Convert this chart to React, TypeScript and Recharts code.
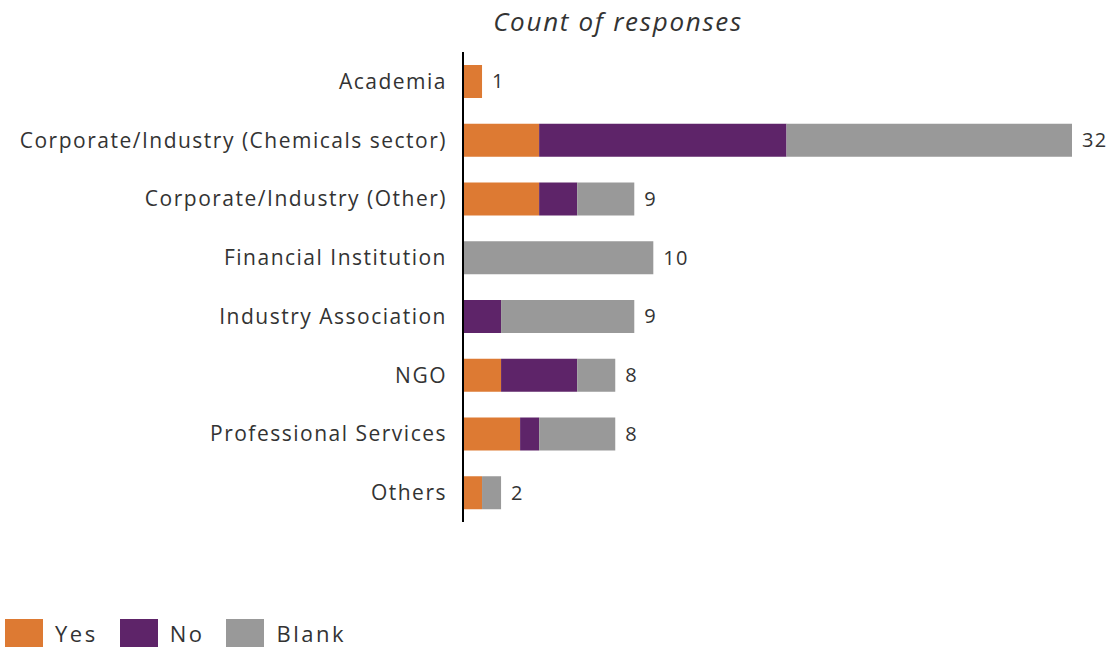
import { Bar, BarChart, LabelList, XAxis, YAxis } from "recharts";

const categories = [
  "Academia",
  "Corporate/Industry (Chemicals sector)",
  "Corporate/Industry (Other)",
  "Financial Institution",
  "Industry Association",
  "NGO",
  "Professional Services",
  "Others",
];
const yes = [1, 4, 4, 0, 0, 2, 3, 1];
const no = [0, 13, 2, 0, 2, 4, 1, 0];
const blank = [0, 15, 3, 10, 7, 2, 4, 1];

const seriesInfo = [
  { key: "yes", name: "Yes", color: "#DD7A33" },
  { key: "no", name: "No", color: "#5E2469" },
  { key: "blank", name: "Blank", color: "#999999" },
];

const data = categories.map((name, i) => ({
  name,
  yes: yes[i],
  no: no[i],
  blank: blank[i],
}));

const FONT = "Open Sans, sans-serif";

// total goes at the end of the last non-zero segment of each row
function makeTotalLabel(seriesIdx: number) {
  return function TotalLabel(props: any) {
    const { x, y, width, height, value } = props;
    const row: any = data.find((d) => d.name === value);
    if (!row) return null;
    const vals = seriesInfo.map((s) => row[s.key] as number);
    let last = -1;
    vals.forEach((v, i) => {
      if (v > 0) last = i;
    });
    if (last !== seriesIdx) return null;
    const total = vals.reduce((a, b) => a + b, 0);
    return (
      <text
        x={Number(x) + Number(width) + 10}
        y={Number(y) + Number(height) / 2}
        dy="0.35em"
        fontSize={20}
        letterSpacing={1.2}
        fontFamily={FONT}
        fill="#333"
      >
        {total}
      </text>
    );
  };
}

export default function App() {
  return (
    <div style={{ position: "absolute", left: 0, top: 0, width: 1109, height: 650, background: "#fff" }}>
      <div
        style={{
          position: "absolute",
          left: 418,
          width: 400,
          top: 3,
          textAlign: "center",
          fontFamily: FONT,
          fontStyle: "italic",
          fontSize: 26,
          letterSpacing: 1.7,
          color: "#333",
        }}
      >
        Count of responses
      </div>
      <BarChart
        width={1109}
        height={650}
        data={data}
        layout="vertical"
        margin={{ top: 52, right: 37, bottom: 128, left: 0 }}
        barCategoryGap="22%"
      >
        <XAxis type="number" domain={[0, 32]} hide />
        <YAxis
          type="category"
          dataKey="name"
          width={463}
          tickLine={false}
          tickSize={0}
          tickMargin={16}
          axisLine={{ stroke: "#000", strokeWidth: 2 }}
          tick={{ fontSize: 21, fontFamily: FONT, fill: "#333", letterSpacing: 1.5 } as any}
          interval={0}
        />
        {seriesInfo.map((s, i) => (
          <Bar
            key={s.key}
            dataKey={s.key}
            name={s.name}
            stackId="a"
            fill={s.color}
            isAnimationActive={false}
          >
            <LabelList dataKey="name" content={makeTotalLabel(i)} />
          </Bar>
        ))}
      </BarChart>
      <div
        style={{
          position: "absolute",
          left: 5,
          top: 619,
          height: 28,
          display: "flex",
          alignItems: "center",
          fontFamily: FONT,
          fontSize: 22,
          lineHeight: "28px",
          letterSpacing: 2.5,
          color: "#333",
        }}
      >
        {seriesInfo.map((s) => (
          <div key={s.key} style={{ display: "flex", alignItems: "center", marginRight: 22 }}>
            <span style={{ width: 38, height: 28, background: s.color, display: "inline-block", marginRight: 12 }} />
            <span>{s.name}</span>
          </div>
        ))}
      </div>
    </div>
  );
}
